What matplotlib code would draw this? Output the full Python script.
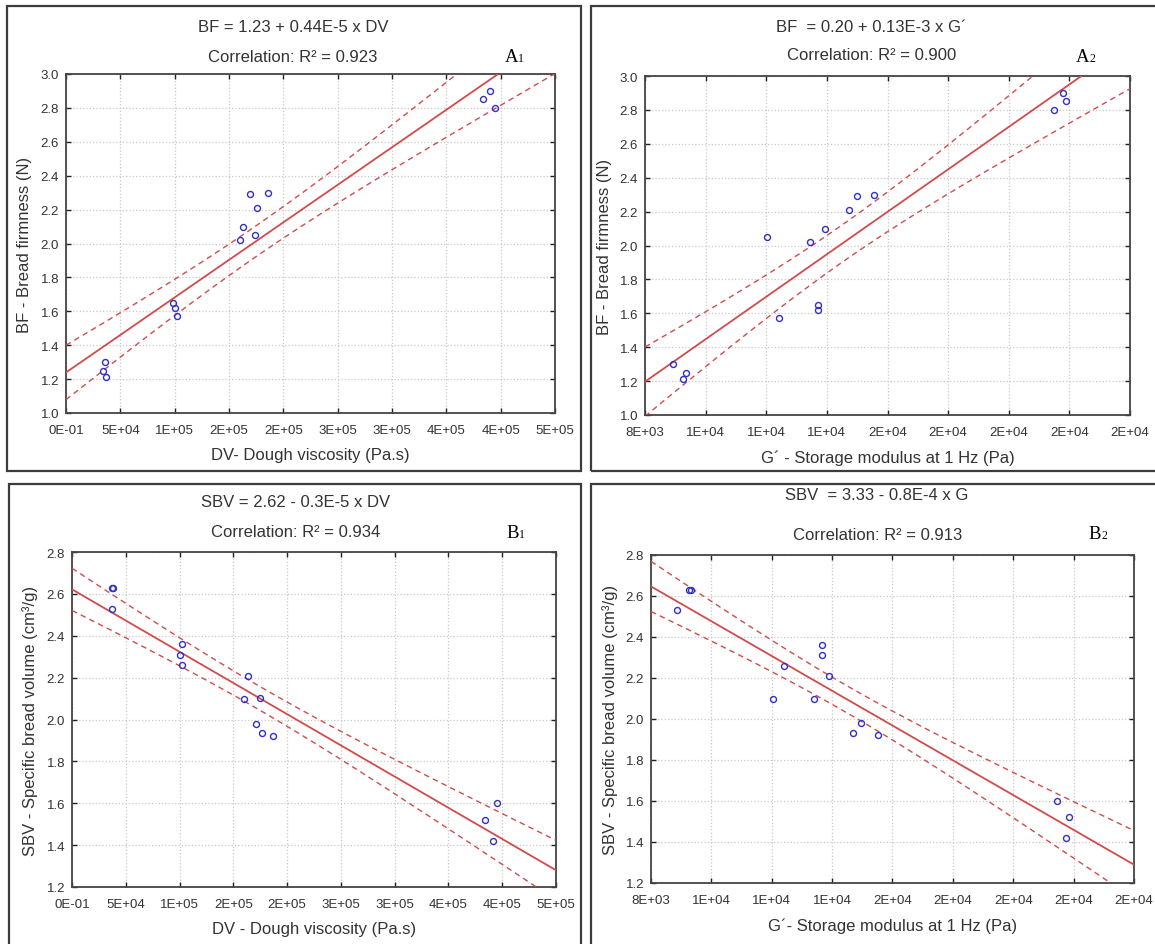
import numpy as np
import matplotlib.pyplot as plt
from matplotlib.patches import Rectangle

plt.rcParams['font.family'] = ['Liberation Sans', 'DejaVu Sans']

# values
dv_a1 = [34300, 36000, 37000, 98800, 100500, 102200, 159800, 162900,
         169100, 173500, 175600, 186200, 383400, 390600, 394700]
bf_a1 = [1.25, 1.30, 1.21, 1.65, 1.62, 1.57, 2.02, 2.10,
         2.29, 2.05, 2.21, 2.30, 2.85, 2.90, 2.80]

g_a2 = [8908, 9260, 9343, 12019, 12430, 13435, 13700, 13700,
        13930, 14717, 14983, 15563, 21483, 21798, 21895]
bf_a2 = [1.30, 1.21, 1.25, 2.05, 1.57, 2.02, 1.65, 1.62,
         2.10, 2.21, 2.29, 2.30, 2.80, 2.90, 2.85]

dv_b1 = [37000, 38500, 37600, 102100, 100300, 102100, 163800, 160300,
         174800, 171000, 176600, 187200, 383800, 395200, 391300]
sbv_b1 = [2.63, 2.63, 2.53, 2.36, 2.31, 2.26, 2.21, 2.10,
          2.105, 1.98, 1.935, 1.92, 1.52, 1.60, 1.42]

g_b2 = [9271, 9320, 8846, 12405, 12030, 13653, 13653, 13894,
        13385, 14692, 14960, 15528, 21446, 21834, 21751]
sbv_b2 = [2.63, 2.63, 2.53, 2.26, 2.10, 2.36, 2.31, 2.21,
          2.10, 1.93, 1.98, 1.92, 1.60, 1.52, 1.42]

dv_ticks = [0, 50000, 100000, 150000, 200000, 250000, 300000, 350000, 400000, 450000]
dv_labels = ['0E-01', '5E+04', '1E+05', '2E+05', '2E+05', '3E+05', '3E+05', '4E+05', '4E+05', '5E+05']
g_ticks = [8000, 10000, 12000, 14000, 16000, 18000, 20000, 22000, 24000]
g_labels = ['8E+03', '1E+04', '1E+04', '1E+04', '2E+04', '2E+04', '2E+04', '2E+04', '2E+04']
bf_ticks = [1.0, 1.2, 1.4, 1.6, 1.8, 2.0, 2.2, 2.4, 2.6, 2.8, 3.0]
sbv_ticks = [1.2, 1.4, 1.6, 1.8, 2.0, 2.2, 2.4, 2.6, 2.8]

W, H = 1155, 945
fig = plt.figure(figsize=(W / 100, H / 100), dpi=100)

TXT = '#333333'
RED = '#d24b4b'
BLUE = '#3030c8'


def px_axes(l, t, r, b):
    return fig.add_axes([l / W, 1 - b / H, (r - l) / W, (b - t) / H])


def ftext(x, y, s, **kw):
    fig.text(x / W, 1 - y / H, s, **kw)


def panel(box, x, y, xticks, xlabels, yticks, xlabel, ylabel, ylab_x):
    l, t, r, b = box
    ax = px_axes(l, t, r, b)
    x = np.array(x, float)
    y = np.array(y, float)
    # linear fit and 95% confidence band of the mean
    slope, icpt = np.polyfit(x, y, 1)
    n = len(x)
    s = np.sqrt(np.sum((y - (icpt + slope * x)) ** 2) / (n - 2))
    sxx = np.sum((x - x.mean()) ** 2)
    xs = np.linspace(xticks[0], xticks[-1], 200)
    fit = icpt + slope * xs
    half = 2.160 * s * np.sqrt(1 / n + (xs - x.mean()) ** 2 / sxx)
    ax.plot(xs, fit, color=RED, lw=1.3, zorder=3)
    ax.plot(xs, fit + half, color=RED, lw=1.0, ls=(0, (4, 3)), zorder=3)
    ax.plot(xs, fit - half, color=RED, lw=1.0, ls=(0, (4, 3)), zorder=3)
    ax.plot(x, y, 'o', mfc='none', mec=BLUE, ms=4.3, mew=1.0, zorder=4)
    ax.set_xlim(xticks[0], xticks[-1])
    ax.set_ylim(yticks[0], yticks[-1])
    ax.set_xticks(xticks)
    ax.set_xticklabels(xlabels)
    ax.set_yticks(yticks)
    ax.set_yticklabels(['%.1f' % v for v in yticks])
    ax.grid(True, color='#c8c8c8', ls=':', lw=0.9)
    ax.set_axisbelow(True)
    ax.tick_params(direction='in', length=3.5, width=1, top=True, right=True,
                   labelsize=9.5, labelcolor=TXT, colors='#222222')
    ax.tick_params(axis='x', pad=8)
    ax.tick_params(axis='y', pad=5)
    for sp in ax.spines.values():
        sp.set_color('#444444')
        sp.set_linewidth(1.3)
    ax.set_xlabel(xlabel, fontsize=12, color=TXT, labelpad=8)
    ftext(ylab_x, (t + b) / 2, ylabel, rotation=90, ha='center', va='center',
          fontsize=12, color=TXT)
    return ax


def tag(x, base, letter, digit):
    ftext(x, base, letter, ha='right', va='baseline', fontsize=13.5,
          family='Liberation Serif', color='black')
    ftext(x, base, digit, ha='left', va='baseline', fontsize=8.5,
          family='Liberation Serif', color='black')


# panel frames
for (l, t, r, b) in [(7, 7, 581, 472), (591, 7, 1160, 472),
                     (9, 485, 581, 950), (591, 485, 1160, 950)]:
    fig.add_artist(Rectangle((l / W, 1 - b / H), (r - l) / W, (b - t) / H,
                             transform=fig.transFigure, fill=False,
                             ec='#3c3c3c', lw=1.6))

panel((66, 75, 555, 414), dv_a1, bf_a1, dv_ticks, dv_labels, bf_ticks,
      'DV- Dough viscosity (Pa.s)', 'BF - Bread firmness (N)', 25)
ftext(293, 27, 'BF = 1.23 + 0.44E-5 x DV', ha='center', va='center', fontsize=12, color=TXT)
ftext(293, 57, 'Correlation: R² = 0.923', ha='center', va='center', fontsize=12, color=TXT)
tag(518, 62, 'A', '1')

panel((645, 77, 1130, 416), g_a2, bf_a2, g_ticks, g_labels, bf_ticks,
      'G´ - Storage modulus at 1 Hz (Pa)', 'BF - Bread firmness (N)', 604)
ftext(871, 27, 'BF  = 0.20 + 0.13E-3 x G´', ha='center', va='center', fontsize=12, color=TXT)
ftext(872, 56, 'Correlation: R² = 0.900', ha='center', va='center', fontsize=12, color=TXT)
tag(1089, 62, 'A', '2')

panel((72, 553, 556, 888), dv_b1, sbv_b1, dv_ticks, dv_labels, sbv_ticks,
      'DV - Dough viscosity (Pa.s)', 'SBV - Specific bread volume (cm³/g)', 30)
ftext(296, 503, 'SBV = 2.62 - 0.3E-5 x DV', ha='center', va='center', fontsize=12, color=TXT)
ftext(296, 533, 'Correlation: R² = 0.934', ha='center', va='center', fontsize=12, color=TXT)
tag(519, 538, 'B', '1')

panel((651, 556, 1134, 884), g_b2, sbv_b2, g_ticks, g_labels, sbv_ticks,
      'G´- Storage modulus at 1 Hz (Pa)', 'SBV - Specific bread volume (cm³/g)', 610)
ftext(877, 496, 'SBV  = 3.33 - 0.8E-4 x G', ha='center', va='center', fontsize=12, color=TXT)
ftext(878, 535, 'Correlation: R² = 0.913', ha='center', va='center', fontsize=12, color=TXT)
tag(1101, 539, 'B', '2')

fig.savefig('out.png', dpi=100)
